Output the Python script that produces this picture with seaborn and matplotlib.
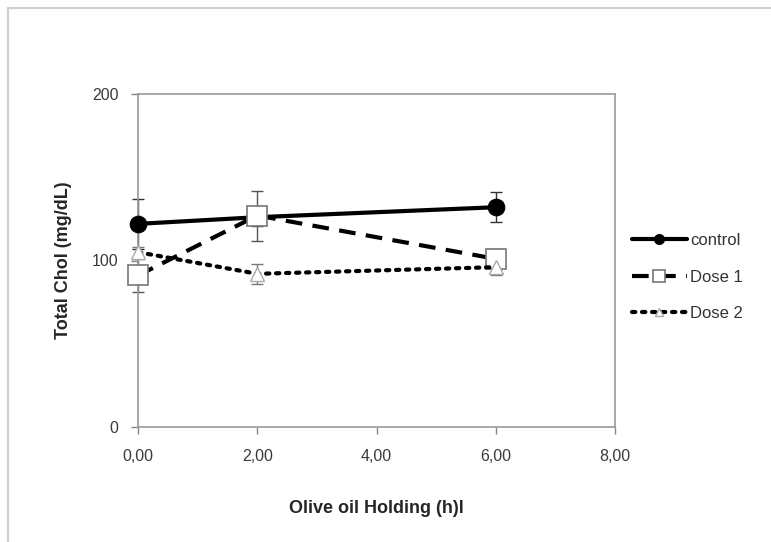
import numpy as np
import pandas as pd
import matplotlib
matplotlib.use('Agg')
import matplotlib.pyplot as plt
from matplotlib.patches import Rectangle
import seaborn as sns

hours = [0, 2, 6]
series_names = ['control', 'Dose 1', 'Dose 2']
control = [122, 126, 132]
control_err = [15, 5, 9]
dose1 = [91, 127, 101]
dose1_err = [10, 15, 6]
dose2 = [105, 92, 96]
dose2_err = [3, 6, 5]
x_ticks = [0, 2, 4, 6, 8]
x_tick_labels = ['0,00', '2,00', '4,00', '6,00', '8,00']
y_ticks = [0, 100, 200]

sns.set_theme(style='white')
plt.rcParams['font.family'] = ['Liberation Sans', 'DejaVu Sans']

values = {'control': (control, control_err),
          'Dose 1': (dose1, dose1_err),
          'Dose 2': (dose2, dose2_err)}
styles = {
    'control': dict(color='black', linestyle='-', marker='o', markersize=12,
                    markerfacecolor='black', markeredgecolor='black', linewidth=3),
    'Dose 1': dict(color='black', linestyle=(0, (4, 2.5)), marker='s', markersize=14,
                   markerfacecolor='white', markeredgecolor='#777777', markeredgewidth=1.2,
                   linewidth=3),
    'Dose 2': dict(color='black', linestyle=(0, (0.8, 1.6)), marker='^', markersize=10,
                   markerfacecolor='white', markeredgecolor='#aaaaaa', markeredgewidth=1,
                   linewidth=3, dash_capstyle='round'),
}

fig = plt.figure(figsize=(7.71, 5.42), dpi=100)
ax = fig.add_axes([138 / 771, 1 - 427 / 542, (615 - 138) / 771, (427 - 94) / 542])

# outer chart-area border
fig.patches.append(Rectangle((8 / 771, -0.01), 1.0, 1 - 8 / 542 + 0.01, transform=fig.transFigure,
                             fill=False, edgecolor='#cfcfcf', linewidth=1.5))

err_colors = {'control': '#333333', 'Dose 1': '#555555', 'Dose 2': '#777777'}
for name in series_names:
    y, err = values[name]
    df = pd.DataFrame({'hours': hours, 'value': y})
    ax.errorbar(hours, y, yerr=err, fmt='none', ecolor=err_colors[name],
                elinewidth=1, capsize=4, capthick=1, zorder=2, clip_on=False)
    sns.lineplot(data=df, x='hours', y='value', ax=ax, label=name, zorder=3,
                 clip_on=False, **styles[name])

ax.set_xlim(0, 8)
ax.set_ylim(0, 200)
ax.set_xticks(x_ticks)
ax.set_xticklabels(x_tick_labels)
ax.set_yticks(y_ticks)
ax.tick_params(axis='both', direction='out', length=5, width=1, color='#888888',
               labelcolor='#3a3a3a', labelsize=11.5, bottom=True, left=True)
ax.tick_params(axis='x', pad=11)
ax.tick_params(axis='y', pad=9)
for spine in ax.spines.values():
    spine.set_color('#999999')
    spine.set_linewidth(1.2)

ax.set_xlabel('Olive oil Holding (h)l', fontsize=13, fontweight='bold', labelpad=26)
ax.set_ylabel('Total Chol (mg/dL)', fontsize=13, fontweight='bold', labelpad=14)

leg = ax.legend(loc='center left', bbox_to_anchor=(1.0, 0.45), frameon=False,
                fontsize=12, markerscale=0.6, handlelength=3.3, handletextpad=0.2,
                labelspacing=1.3, borderaxespad=0.6)
for t in leg.get_texts():
    t.set_color('#333333')

fig.savefig('out.png', dpi=100)
